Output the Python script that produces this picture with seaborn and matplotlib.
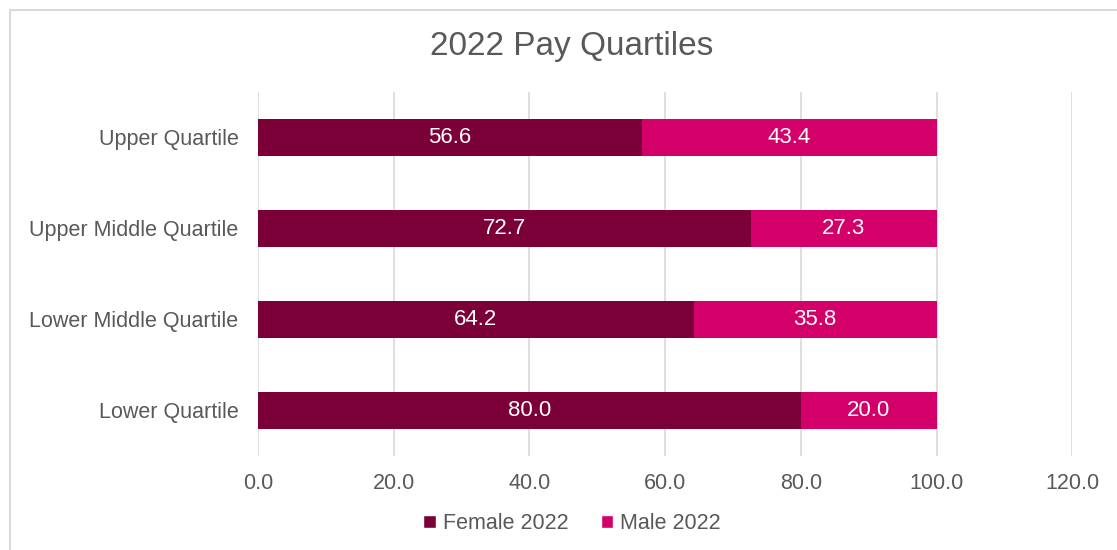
import matplotlib
matplotlib.use("Agg")
import matplotlib.pyplot as plt
import seaborn as sns
import pandas as pd
from matplotlib.patches import Patch, Rectangle

categories = ["Upper Quartile", "Upper Middle Quartile", "Lower Middle Quartile", "Lower Quartile"]
female = [56.6, 72.7, 64.2, 80.0]
male = [43.4, 27.3, 35.8, 20.0]
xticks = [0, 20, 40, 60, 80, 100, 120]

FEMALE_C = "#7b0038"
MALE_C = "#d4006a"
TEXT_C = "#595959"

sns.set_theme(style="white")
plt.rcParams["font.family"] = ["Liberation Sans", "DejaVu Sans"]

df = pd.DataFrame({"cat": categories, "female": female, "male": male})
df["total"] = df["female"] + df["male"]

fig = plt.figure(figsize=(11.17, 5.5), dpi=100)
ax = fig.add_axes([0.231, 0.171, 0.729, 0.662])

sns.barplot(data=df, y="cat", x="total", color=MALE_C, saturation=1, width=0.41,
            orient="h", ax=ax, edgecolor="none")
sns.barplot(data=df, y="cat", x="female", color=FEMALE_C, saturation=1, width=0.41,
            orient="h", ax=ax, edgecolor="none")

for i, (f, m) in enumerate(zip(female, male)):
    ax.text(f / 2, i, f"{f:.1f}", ha="center", va="center", color="white", fontsize=16)
    ax.text(f + m / 2, i, f"{m:.1f}", ha="center", va="center", color="white", fontsize=16)

ax.set_xlim(0, 120)
ax.set_ylim(3.5, -0.5)
ax.set_xticks(xticks)
ax.set_xticklabels([f"{v:.1f}" for v in xticks])
ax.xaxis.grid(True, color="#d9d9d9", linewidth=1.2)
ax.set_axisbelow(True)
for s in ax.spines.values():
    s.set_visible(False)
ax.set_xlabel("")
ax.set_ylabel("")
ax.tick_params(axis="both", length=0, labelsize=15.5, labelcolor=TEXT_C)
ax.tick_params(axis="y", pad=14)
ax.tick_params(axis="x", pad=12)

fig.text(0.512, 0.915, "2022 Pay Quartiles", ha="center", va="center", fontsize=24, color=TEXT_C)

handles = [Patch(facecolor=FEMALE_C, label="Female 2022"), Patch(facecolor=MALE_C, label="Male 2022")]
fig.legend(handles=handles, loc="center", bbox_to_anchor=(0.512, 0.048), ncol=2, frameon=False,
           fontsize=15.5, labelcolor=TEXT_C, handlelength=0.6, handleheight=0.6,
           handletextpad=0.3, columnspacing=1.5)

fig.patches.append(Rectangle((10 / 1117, -0.1), 1.2, 1 - 10 / 550 + 0.1, transform=fig.transFigure,
                             fill=False, edgecolor="#d9d9d9", linewidth=1.5))

fig.savefig("out.png", dpi=100)
